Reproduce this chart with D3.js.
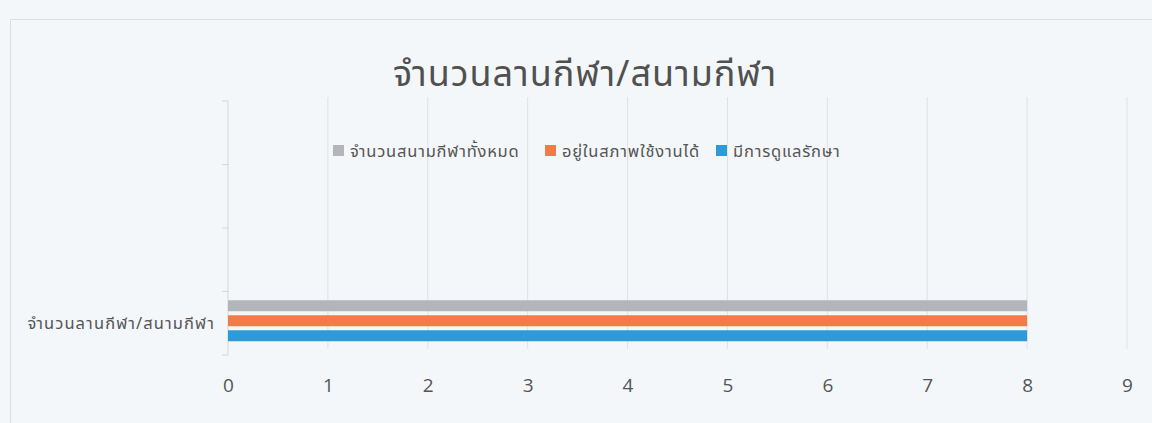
<!DOCTYPE html>
<html><head><meta charset="utf-8">
<script src="https://cdn.jsdelivr.net/npm/d3@7"></script>
<style>
html,body{margin:0;padding:0;background:#f4f7f9;}
svg{display:block;}
text{font-family:"Noto Sans Thai","Noto Sans","Open Sans",sans-serif;}
</style></head>
<body>
<svg id="chart" width="1152" height="423"></svg>
<script>
const title = "จำนวนลานกีฬา/สนามกีฬา";
const categories = ["จำนวนลานกีฬา/สนามกีฬา", "", "", ""];
const seriesNames = ["จำนวนสนามกีฬาทั้งหมด", "อยู่ในสภาพใช้งานได้", "มีการดูแลรักษา"];
const totalValues = [8];
const usableValues = [8];
const maintainedValues = [8];
const xTicks = [0, 1, 2, 3, 4, 5, 6, 7, 8, 9];
const colors = ["#b4b5ba", "#f07c47", "#2f9ad8"];

const series = [totalValues, usableValues, maintainedValues];
const svg = d3.select("#chart");

// chart border
svg.append("rect").attr("x", 10.5).attr("y", 19.5).attr("width", 1160).attr("height", 420)
  .attr("fill", "none").attr("stroke", "#dcdfe2").attr("stroke-width", 1);

const pLeft = 228, pRight = 1127, pTop = 101, pBottom = 355;
const x = d3.scaleLinear().domain([0, 9]).range([pLeft, pRight]);
const y = d3.scaleBand().domain(d3.range(categories.length)).range([pBottom, pTop]);

// gridlines
svg.append("g").selectAll("line").data(xTicks.slice(1)).join("line")
  .attr("x1", d => x(d)).attr("x2", d => x(d))
  .attr("y1", pTop - 4).attr("y2", pBottom - 6)
  .attr("stroke", "#dfe2e5").attr("stroke-width", 1);

// category axis
const gy = svg.append("g").attr("transform", `translate(${pLeft},0)`);
gy.append("line").attr("x1", 0).attr("x2", 0).attr("y1", pTop).attr("y2", pBottom).attr("stroke", "#d3d6d9");
d3.range(categories.length + 1).forEach(k => {
  const yy = pBottom - k * y.step();
  gy.append("line").attr("x1", -6).attr("x2", 0).attr("y1", yy).attr("y2", yy).attr("stroke", "#d3d6d9");
});
gy.selectAll("text.cat").data(d3.range(categories.length)).join("text")
  .attr("class", "cat")
  .attr("x", -13).attr("y", i => y(i) + y.bandwidth() / 2)
  .attr("text-anchor", "end").attr("dominant-baseline", "central")
  .attr("font-size", 16.5).attr("letter-spacing", 1.1).attr("fill", "#555")
  .text(i => categories[i]);

// bars
const inner = d3.scaleBand().domain(d3.range(series.length)).range([0, 41]).paddingInner(0.267);
const cluster = svg.append("g");
series.forEach((vals, s) => {
  cluster.selectAll(null).data(vals.map((v, i) => ({v, i}))).join("rect")
    .attr("x", x(0))
    .attr("y", d => y(d.i) + y.bandwidth() / 2 - 23 + inner(s))
    .attr("width", d => x(d.v) - x(0))
    .attr("height", inner.bandwidth())
    .attr("fill", colors[s]);
});

// x axis labels
const xAxis = d3.axisBottom(x).tickValues(xTicks).tickSize(0).tickPadding(0);
const gx = svg.append("g").attr("transform", `translate(0,385)`).call(xAxis);
gx.select(".domain").remove();
gx.selectAll("text").attr("font-size", 19).attr("fill", "#555").attr("dy", "0.35em")
  .style("font-family", "'Open Sans','Noto Sans',sans-serif");

// title
svg.append("text").attr("x", 585).attr("y", 75).attr("text-anchor", "middle")
  .attr("dominant-baseline", "central").attr("font-size", 36).attr("letter-spacing", 1)
  .attr("fill", "#505050")
  .text(title);

// legend
const legendX = [333, 545, 716];
const lg = svg.append("g");
seriesNames.forEach((n, s) => {
  lg.append("rect").attr("x", legendX[s]).attr("y", 145).attr("width", 11).attr("height", 11).attr("fill", colors[s]);
  lg.append("text").attr("x", legendX[s] + 17).attr("y", 151).attr("dominant-baseline", "central")
    .attr("font-size", 16.5).attr("letter-spacing", 0.8).attr("fill", "#555").text(n);
});
</script>
</body></html>
